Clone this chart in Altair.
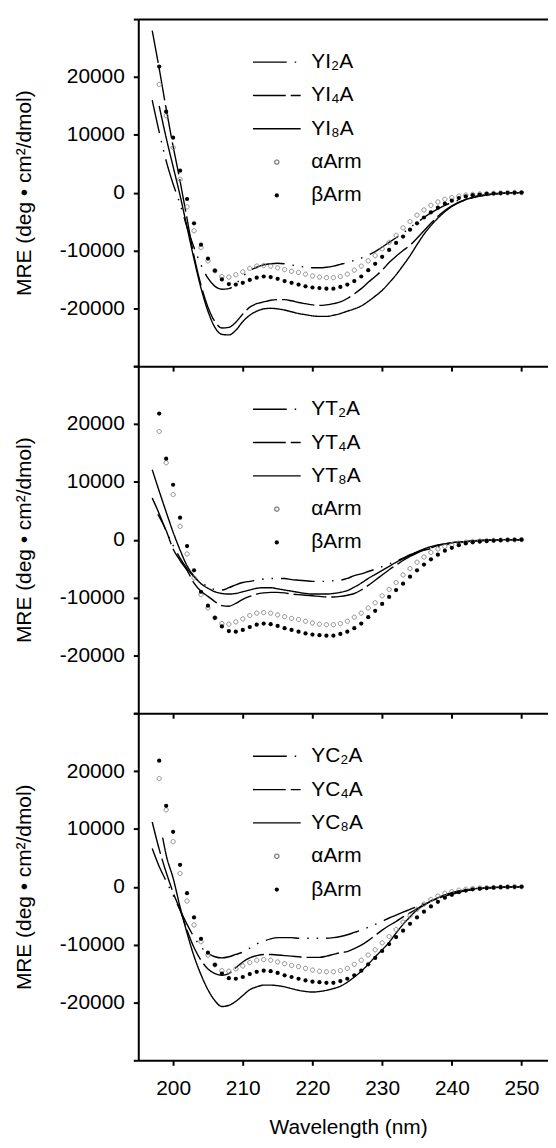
import altair as alt
import pandas as pd

# ---------------- data ----------------
WL = list(range(197, 241)) + [242, 244, 247, 250]
WL_LATE8 = list(range(198, 241)) + [242, 244, 247, 250]
WL_T4 = [197.8] + list(range(198, 241)) + [242, 244, 247, 250]
WL_C8 = [198.5] + list(range(199, 241)) + [242, 244, 247, 250]
WL_ARM = list(range(198, 251))

YI2A = [16000, 10500, 5500, 1500, -2000, -6000, -9500, -12500, -14800, -16200,
        -16700, -16600, -15800, -14500, -13500, -12900, -12500, -12300, -12200, -12300,
        -12500, -12700, -12900, -13000, -13000, -12900, -12700, -12400, -12100, -11700,
        -11300, -10800, -10200, -9400, -8600, -7800, -7000, -6000, -5200, -4300,
        -3500, -2800, -2200, -1700, -1000, -500, -150, 0]
YI4A = [28000, 21500, 14500, 8000, 2000, -4500, -11000, -16000, -19800, -22300,
        -23400, -23300, -22400, -21000, -19800, -19200, -18900, -18600, -18500, -18500,
        -18700, -19000, -19200, -19400, -19500, -19400, -19200, -18900, -18300, -17500,
        -16600, -15500, -14500, -13400, -12100, -11000, -10000, -9100, -7900, -6600,
        -5300, -4100, -3100, -2300, -1200, -600, -150, 0]
YI8A = [15000, 9500, 4500, -500, -6000, -11500, -16500, -20500, -23300,
        -24500, -24600, -23800, -22300, -21200, -20500, -20100, -20000, -20100, -20300,
        -20600, -20900, -21100, -21300, -21400, -21400, -21200, -20900, -20500, -20100,
        -19600, -18800, -17900, -16900, -15600, -14200, -12600, -10900, -9000, -7200,
        -5700, -4400, -3300, -2400, -1200, -600, -100, 0]

YT2A = [7200, 4500, 1500, -1000, -3200, -5000, -6400, -7400, -8100, -8600,
        -8700, -8300, -7800, -7400, -7200, -7000, -6800, -6700, -6700, -6700,
        -6900, -7000, -7100, -7200, -7200, -7200, -7100, -7000, -6700, -6200,
        -5900, -5500, -5100, -4650, -4200, -3700, -3200, -2600, -2200, -1800,
        -1550, -1250, -950, -700, -350, -180, -50, 0]
YT4A = [4400, 4000, 1600, -1600, -3600, -5300, -7500, -8900, -9800, -10700,
        -11400, -11500, -11000, -10300, -9800, -9400, -9200, -9100, -9100, -9200,
        -9400, -9500, -9600, -9700, -9800, -9900, -9900, -9800, -9600, -9300,
        -8700, -7900, -7000, -6100, -5200, -4400, -3600, -2900, -2300, -1800,
        -1400, -1000, -750, -550, -300, -150, -50, 0]
YT8A = [12100, 8400, 4800, 1300, -1800, -4500, -6300, -7600, -8400, -9000,
        -9300, -9400, -9300, -9000, -8700, -8400, -8300, -8300, -8500, -8700,
        -8900, -9100, -9300, -9400, -9400, -9400, -9300, -9100, -8800, -8200,
        -7500, -6700, -6000, -5300, -4600, -3900, -3300, -2700, -2100, -1600,
        -1200, -900, -700, -500, -300, -130, -30, 0]

YC2A = [6600, 3500, 1000, -1500, -4000, -6500, -8700, -10400, -11500, -12100,
        -12300, -12100, -11700, -11300, -10600, -9900, -9400, -9000, -8800, -8800,
        -8800, -8900, -8900, -8900, -8900, -8900, -8800, -8600, -8300, -7900,
        -7500, -7000, -6500, -6000, -5400, -4900, -4400, -3900, -3400, -2900,
        -2400, -2000, -1600, -1300, -700, -400, -100, 0]
YC4A = [11200, 6500, 2500, -1000, -4000, -7500, -10500, -12700, -14200, -15000,
        -15300, -15000, -14000, -13000, -12300, -11900, -11700, -11700, -11800, -11900,
        -12000, -12100, -12200, -12200, -12200, -12000, -11700, -11400, -11200, -10700,
        -10100, -9300, -8400, -7500, -6700, -6000, -5200, -4500, -3800, -3100,
        -2500, -2000, -1600, -1200, -650, -350, -100, 0]
YC8A = [8500, 5500, 1500, -3500, -8000, -12000, -15200, -17800, -19700,
        -20700, -20500, -19800, -18800, -17800, -17300, -17000, -17000, -17100, -17300,
        -17600, -17900, -18100, -18200, -18100, -17900, -17600, -17200, -16500, -15600,
        -14600, -13400, -12100, -10900, -9600, -8000, -6500, -5200, -4000, -3200,
        -2500, -1900, -1400, -1000, -550, -250, -50, 0]

ALPHA = [18700, 13300, 7800, 2300, -2460, -6600, -9500, -11800, -13500, -14500,
         -14600, -14200, -13700, -13100, -12700, -12600, -12700, -13000, -13300, -13600,
         -13800, -14100, -14400, -14600, -14700, -14700, -14500, -14100, -13400, -12700,
         -11800, -10900, -9700, -8600, -7400, -6100, -5000, -3900, -3000, -2200,
         -1600, -1150, -850, -600, -420, -300, -220, -160, -110, -70, -40, -20, 0]
BETA = [21800, 14000, 9500, 3800, -1100, -5300, -9000, -11400, -13500, -15000,
        -15800, -15900, -15600, -15100, -14700, -14500, -14600, -14900, -15300, -15600,
        -15900, -16200, -16400, -16500, -16600, -16600, -16300, -15900, -15300, -14500,
        -13400, -12300, -11100, -9900, -8700, -7600, -6400, -5300, -4300, -3400,
        -2600, -1900, -1400, -950, -650, -450, -330, -230, -150, -80, -30, -10, 0]

PANELS = [
    (["YI\u2082A", "YI\u2084A", "YI\u2088A"], [(WL, YI2A), (WL, YI4A), (WL_LATE8, YI8A)]),
    (["YT\u2082A", "YT\u2084A", "YT\u2088A"], [(WL, YT2A), (WL_T4, YT4A), (WL, YT8A)]),
    (["YC\u2082A", "YC\u2084A", "YC\u2088A"], [(WL, YC2A), (WL, YC4A), (WL_C8, YC8A)]),
]
ARMS = ["\u03b1Arm", "\u03b2Arm"]

# ---------------- styling ----------------
FONT = "Liberation Sans"
LINE_PATH = "M-11.31,0L11.31,0"
SHAPES = [LINE_PATH, LINE_PATH, LINE_PATH, "circle", "circle"]
DASHES = [[34, 8, 1.5, 8, 1.5, 8], [33, 5], [1, 0], [1, 0], [1, 0]]
STROKES = ["black", "black", "black", "#858585", "transparent"]
FILLS = ["transparent", "transparent", "transparent", "transparent", "black"]

W, H = 412, 349
X_DOMAIN = [195, 253.8]
Y_VALUES = [-30000, -20000, -10000, 0, 10000, 20000, 30000]


def make_panel(names, curves, bottom, top):
    rows = []
    for name, (wl, vals) in zip(names, curves):
        for w, v in zip(wl, vals):
            rows.append({"wl": w, "mre": v, "series": name})
    lines_df = pd.DataFrame(rows)
    prow = []
    for name, vals in zip(ARMS, [ALPHA, BETA]):
        for w, v in zip(WL_ARM, vals):
            prow.append({"wl": w, "mre": v, "series": name})
    pts_df = pd.DataFrame(prow)

    domain = names + ARMS
    legend = alt.Legend(
        title=None, orient="none", legendX=128.8, legendY=32.8,
        labelFont=FONT, labelFontSize=21, labelColor="black",
        symbolSize=18, symbolStrokeWidth=1.4, labelOffset=24.2,
        rowPadding=11.5, padding=0, offset=0, labelLimit=300,
    )
    stroke = alt.Stroke("series:N", scale=alt.Scale(domain=domain, range=STROKES), legend=legend)
    dash = alt.StrokeDash("series:N", scale=alt.Scale(domain=domain, range=DASHES), legend=legend)
    shape = alt.Shape("series:N", scale=alt.Scale(domain=domain, range=SHAPES), legend=legend)
    fill = alt.Fill("series:N", scale=alt.Scale(domain=domain, range=FILLS), legend=legend)

    if bottom:
        xaxis = alt.Axis(values=[200, 210, 220, 230, 240, 250], title="Wavelength (nm)",
                         labelFontSize=21, titleFontSize=21, labelPadding=12,
                         titlePadding=19, titleFontWeight="normal", titleX=211)
    else:
        xaxis = alt.Axis(values=[200, 210, 220, 230, 240, 250], labels=False, title=None)
    yaxis = alt.Axis(values=Y_VALUES, title="MRE (deg \u2022 cm\u00b2/dmol)",
                     labelExpr="abs(datum.value) > 25000 ? '' : '' + datum.value",
                     labelFontSize=21, titleFontSize=21, labelPadding=9,
                     titlePadding=25, titleFontWeight="normal")

    x = alt.X("wl:Q", scale=alt.Scale(domain=X_DOMAIN, nice=False, zero=False), axis=xaxis)
    y = alt.Y("mre:Q", scale=alt.Scale(domain=[-30000, 30000], nice=False), axis=yaxis)

    lines = alt.Chart(lines_df).mark_line(strokeWidth=1.4, interpolate="monotone").encode(
        x=x, y=y, stroke=stroke, strokeDash=dash, detail="series:N"
    )
    if top:
        xp = alt.X("wl:Q", scale=alt.Scale(domain=X_DOMAIN, nice=False, zero=False),
                   axis=alt.Axis(orient="top", labels=False, ticks=False, title=None))
    else:
        xp = x
    pts = alt.Chart(pts_df).mark_point(filled=True, size=18, opacity=1, strokeWidth=1).encode(
        x=xp, y=y, shape=shape, fill=fill, stroke=stroke, strokeDash=dash
    )
    layer = alt.layer(lines, pts).properties(width=W, height=H)
    if top:
        layer = layer.resolve_axis(x="independent")
    return layer


panels = [make_panel(n, c, bottom=(i == 2), top=(i == 0)) for i, (n, c) in enumerate(PANELS)]

chart = alt.vconcat(*panels, spacing=0, bounds="flush").resolve_scale(
    stroke="independent", strokeDash="independent", shape="independent", fill="independent"
).resolve_legend(
    stroke="independent", strokeDash="independent", shape="independent", fill="independent"
).properties(
    padding={"left": 5, "top": 7, "right": 0, "bottom": 0}
).configure(font=FONT).configure_view(stroke=None).configure_axis(
    grid=False, domainColor="black", domainWidth=2, tickColor="black", tickWidth=2,
    tickSize=5, labelColor="black", titleColor="black", labelFont=FONT, titleFont=FONT
)

chart.save("out.html", embed_options={"renderer": "svg", "actions": False})
